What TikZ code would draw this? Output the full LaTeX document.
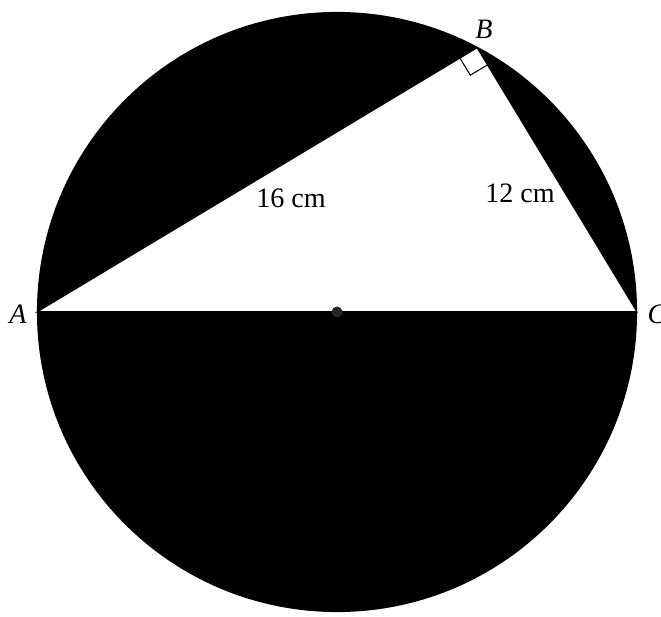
\documentclass[tikz,border=0pt]{standalone}
\usepackage{fontspec}
\setmainfont{Liberation Serif}
\usetikzlibrary{positioning, calc}

\begin{document}
\begin{tikzpicture}[
  x=0.02cm, y=0.02cm,
% 1. Filled disc and the white triangle cut out of it
  disc/.style={
    fill=black,
    draw=black,
    line width=1.2pt
  },
  hole/.style={
    fill=white,
    draw=black,
    line width=0.6pt,
    line join=miter
  },
% 2. Labels
  vertex_font/.style={
    font=\fontsize{16}{18}\selectfont\itshape,
    inner sep=0pt
  },
  length_font/.style={
    font=\fontsize{16}{18}\selectfont,
    inner sep=0pt
  }
]
  \useasboundingbox (0,0) rectangle (661,-617);

  % Points (centre O, diameter AC, B on the circle)
  \coordinate (O) at (337,-312);
  \coordinate (A) at (37,-312);
  \coordinate (C) at (637,-312);
  \coordinate (B) at ($(O)+(62.06:299)$);

  % Disc and triangle
  \draw[disc] (O) circle[radius=299];
  \draw[hole] (A) -- (B) -- (C) -- cycle;
  \draw[line width=1.2pt] (A) -- (C);

  % Right angle at B
  \coordinate (BA) at ($(B)!0.4cm!(A)$);
  \coordinate (BC) at ($(B)!0.4cm!(C)$);
  \draw[line width=0.6pt] (BA) -- ($(BA)+(BC)-(B)$) -- (BC);

  % Centre dot
  \fill[black!85] (O) circle[radius=5.5];

  % Labels
  \node[vertex_font] (lA) at (18,-314) {A};
  \node[vertex_font] (lB) at (484,-29) {B};
  \node[vertex_font] (lC) at (657,-314) {C};
  \node[length_font] (lAB) at (291,-198) {16 cm};
  \node[length_font] (lBC) at (520,-193) {12 cm};

\end{tikzpicture}
\end{document}
